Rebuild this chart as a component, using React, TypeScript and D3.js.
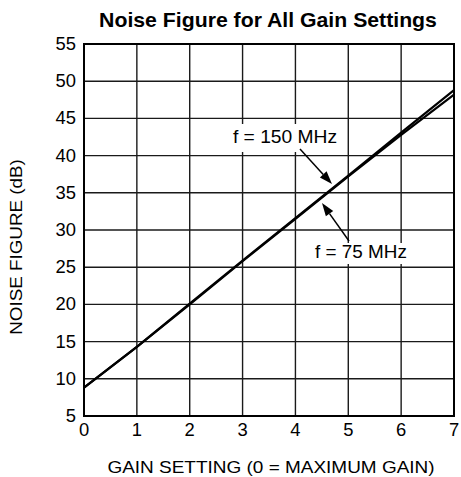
import React from "react";
import * as d3 from "d3";

const gainSettings = [0, 1, 2, 3, 4, 5, 6, 7];
const nf150MHz = [8.8, 14.3, 20.1, 25.9, 31.6, 37.3, 43.1, 48.8];
const nf75MHz = [8.8, 14.3, 20.0, 25.8, 31.5, 37.2, 42.8, 48.2];
const xTicks = [0, 1, 2, 3, 4, 5, 6, 7];
const yTicks = [5, 10, 15, 20, 25, 30, 35, 40, 45, 50, 55];

const W = 461;
const H = 477;
const L = 84, R = 454, T = 44, B = 416;
const FONT = "'Liberation Sans', Arial, Helvetica, sans-serif";

function SText({ x, y, size, sx = 1.12, anchor = "middle", bold = false, rotate = 0, children }: any) {
  return (
    <text
      transform={`translate(${x},${y}) rotate(${rotate}) scale(${sx},1)`}
      fontSize={size}
      fontFamily={FONT}
      fontWeight={bold ? "bold" : "normal"}
      textAnchor={anchor}
      fill="#000"
    >
      {children}
    </text>
  );
}

export default function App() {
  const x = d3.scaleLinear().domain([0, 7]).range([L, R]);
  const y = d3.scaleLinear().domain([5, 55]).range([B, T]);
  const line = d3
    .line<number>()
    .x((_, i) => x(gainSettings[i]))
    .y((d) => y(d));

  const arrow = (x1: number, y1: number, x2: number, y2: number) => {
    const ang = Math.atan2(y2 - y1, x2 - x1);
    const len = 13, half = 4.5;
    const bx = x2 - len * Math.cos(ang), by = y2 - len * Math.sin(ang);
    const px = -Math.sin(ang) * half, py = Math.cos(ang) * half;
    return (
      <g>
        <line x1={x1} y1={y1} x2={bx} y2={by} stroke="#000" strokeWidth={1.5} />
        <polygon points={`${x2},${y2} ${bx + px},${by + py} ${bx - px},${by - py}`} fill="#000" />
      </g>
    );
  };

  return (
    <svg width={W} height={H} style={{ position: "absolute", left: 0, top: 0, background: "#fff" }}>
      <rect x={0} y={0} width={W} height={H} fill="#fff" />
      <SText x={268} y={27} size={19.5} sx={1.09} bold>
        Noise Figure for All Gain Settings
      </SText>
      {/* grid */}
      {xTicks.map((t) => (
        <line key={"gx" + t} x1={x(t)} x2={x(t)} y1={T} y2={B} stroke="#1a1a1a" strokeWidth={1.4} />
      ))}
      {yTicks.map((t) => (
        <line key={"gy" + t} x1={L} x2={R} y1={y(t)} y2={y(t)} stroke="#1a1a1a" strokeWidth={1.4} />
      ))}
      {/* annotation boxes */}
      <rect x={229} y={124} width={116} height={28} fill="#fff" />
      <rect x={310} y={243} width={100} height={21} fill="#fff" />
      <rect x={L} y={T} width={R - L} height={B - T} fill="none" stroke="#000" strokeWidth={2} />
      <path d={line(nf75MHz) || ""} fill="none" stroke="#000" strokeWidth={2.2} />
      <path d={line(nf150MHz) || ""} fill="none" stroke="#000" strokeWidth={2.2} />
      {/* tick labels */}
      {yTicks.map((t) => (
        <SText key={"ly" + t} x={76} y={y(t) + 6} size={17.5} sx={1.05} anchor="end">
          {t}
        </SText>
      ))}
      {xTicks.map((t) => (
        <SText key={"lx" + t} x={x(t)} y={436} size={17.5} sx={1.05}>
          {t}
        </SText>
      ))}
      <SText x={271} y={473} size={16.8} sx={1.13}>
        GAIN SETTING (0 = MAXIMUM GAIN)
      </SText>
      <SText x={22} y={247} size={16.8} sx={1.12} rotate={-90}>
        NOISE FIGURE (dB)
      </SText>
      {/* annotations */}
      <SText x={285} y={143} size={17.5} sx={1.1}>
        f = 150 MHz
      </SText>
      <SText x={361} y={258} size={17.5} sx={1.08}>
        f = 75 MHz
      </SText>
      {arrow(300, 149, 332, 184)}
      {arrow(349, 241, 322, 203)}
    </svg>
  );
}
